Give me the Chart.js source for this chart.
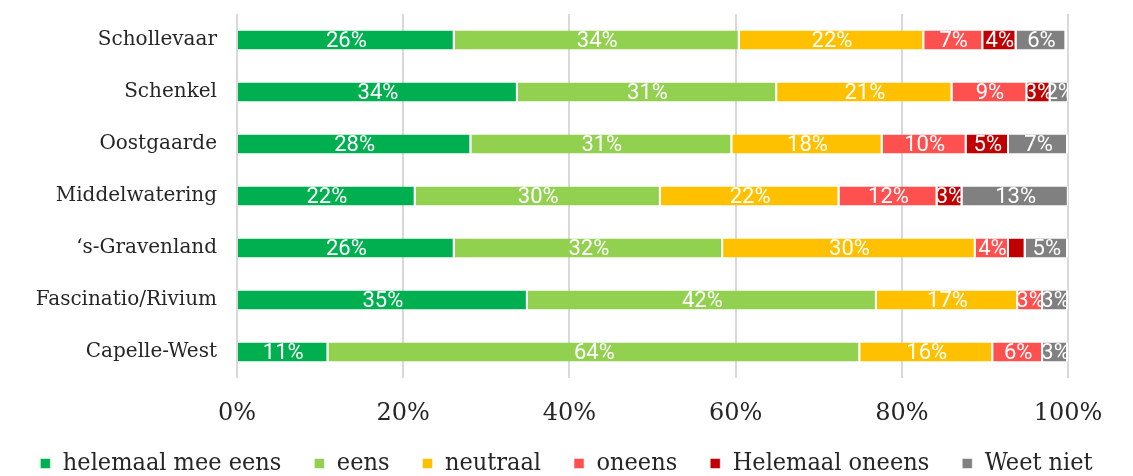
<!DOCTYPE html>
<html>
<head>
<meta charset="utf-8">
<script src="https://cdn.jsdelivr.net/npm/chart.js@4/dist/chart.umd.min.js"></script>
<style>
  html, body { margin: 0; padding: 0; background: #fff; }
  #wrap { width: 1133px; height: 476px; }
</style>
</head>
<body>
<div id="wrap"><canvas id="stacked"></canvas></div>
<script>
// categories (top to bottom)
var wijken = ["Schollevaar", "Schenkel", "Oostgaarde", "Middelwatering", "\u2018s-Gravenland", "Fascinatio/Rivium", "Capelle-West"];

// series values in %
var helemaalMeeEens = [26.2, 33.8, 28.2, 21.5, 26.2, 35.0, 11.0];
var eens            = [34.3, 31.2, 31.4, 29.5, 32.3, 42.0, 64.0];
var neutraal        = [22.2, 21.1, 18.1, 21.5, 30.4, 17.0, 16.0];
var oneens          = [7.1, 9.0, 10.1, 11.8, 4.0, 3.0, 6.0];
var helemaalOneens  = [4.0, 2.8, 5.1, 3.0, 2.0, 0, 0];
var weetNiet        = [6.0, 2.2, 7.1, 12.8, 5.1, 3.0, 3.0];

var seriesNames = ["helemaal mee eens", "eens", "neutraal", "oneens", "Helemaal oneens", "Weet niet"];
var seriesColors = ["#00B050", "#92D050", "#FFC000", "#FF5050", "#C00000", "#808080"];
var tickLabels = ["0%", "20%", "40%", "60%", "80%", "100%"];

var seriesData = [helemaalMeeEens, eens, neutraal, oneens, helemaalOneens, weetNiet];

var datasets = seriesData.map(function (values, i) {
  return {
    label: seriesNames[i],
    data: values,
    backgroundColor: seriesColors[i],
    borderColor: "#ffffff",
    borderWidth: { top: 0, bottom: 0, left: 0, right: 2 },
    borderSkipped: false,
    categoryPercentage: 0.365,
    barPercentage: 1
  };
});

// white percentage labels, clipped to their own segment
var segmentLabels = {
  id: "segmentLabels",
  afterDatasetsDraw: function (chart) {
    var ctx = chart.ctx;
    ctx.save();
    ctx.font = "22px Roboto";
    ctx.fillStyle = "#ffffff";
    ctx.textAlign = "center";
    ctx.textBaseline = "middle";
    chart.data.datasets.forEach(function (ds, di) {
      var meta = chart.getDatasetMeta(di);
      meta.data.forEach(function (bar, i) {
        var v = ds.data[i];
        if (!v || v < 2.1) return; // tiny slices have no label in the original
        var left = Math.min(bar.base, bar.x), right = Math.max(bar.base, bar.x);
        ctx.save();
        ctx.beginPath();
        ctx.rect(left, bar.y - bar.height / 2, right - left - 1, bar.height);
        ctx.clip();
        ctx.fillText(Math.round(v) + "%", (left + right) / 2, bar.y + 1);
        ctx.restore();
      });
    });
    ctx.restore();
  }
};

var chart = new Chart(document.getElementById("stacked"), {
  type: "bar",
  data: { labels: wijken, datasets: datasets },
  plugins: [segmentLabels],
  options: {
    indexAxis: "y",
    responsive: true,
    maintainAspectRatio: false,
    animation: false,
    layout: { padding: { top: 14, right: 0, bottom: -10, left: 0 } },
    scales: {
      x: {
        stacked: true,
        min: 0,
        max: 100,
        border: { display: false },
        grid: { color: "#d9d9d9", lineWidth: 2, drawTicks: false },
        ticks: {
          stepSize: 20,
          padding: 21,
          color: "#262626",
          font: { family: "DejaVu Serif", size: 24 },
          callback: function (value) { return tickLabels[value / 20]; }
        },
        afterFit: function (scale) {
          scale.height = 40;
          scale.paddingRight = 65; // keep the plot ending at 1068px
          // the box is squeezed, so don't let it clip its own labels
          scale._computeLabelArea = function () { return undefined; };
        }
      },
      y: {
        stacked: true,
        border: { display: false },
        grid: { display: false, drawTicks: false },
        ticks: {
          padding: 20,
          color: "#262626",
          font: { family: "DejaVu Serif", size: 20 }
        },
        afterFit: function (scale) {
          scale.width = 237;
          scale.paddingTop = 0;
          scale.paddingBottom = 0;
        }
      }
    },
    plugins: {
      tooltip: { enabled: false },
      legend: {
        position: "bottom",
        labels: {
          boxWidth: 10,
          boxHeight: 10,
          padding: 33,
          color: "#262626",
          font: { family: "DejaVu Serif Condensed", size: 25 }
        }
      }
    }
  }
});
</script>
</body>
</html>
